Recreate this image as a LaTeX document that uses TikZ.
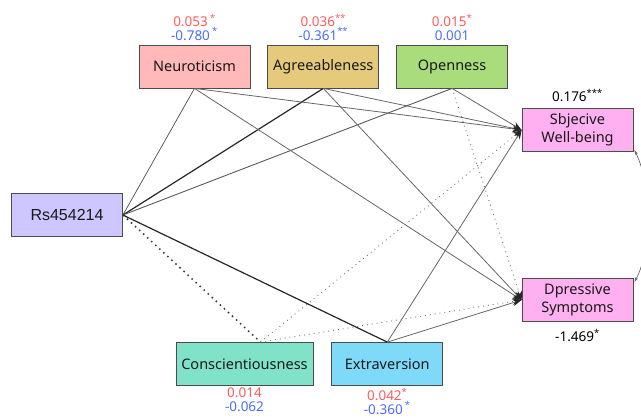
\documentclass[tikz,border=0pt]{standalone}
\usepackage{fontspec}
\setmainfont{Noto Sans}
\newfontfamily\rsfont{Liberation Sans}
\usetikzlibrary{positioning,arrows.meta}

\definecolor{neurofill}{HTML}{FFB9B9}
\definecolor{agreefill}{HTML}{E5CA7C}
\definecolor{openfill}{HTML}{A9DC7B}
\definecolor{outfill}{HTML}{FFB0F0}
\definecolor{consfill}{HTML}{80E3C9}
\definecolor{extrafill}{HTML}{7FD9F9}
\definecolor{rsfill}{HTML}{CDC6FF}
\definecolor{estred}{HTML}{FF5A5A}
\definecolor{estblue}{HTML}{4A6CFF}

\tikzset{
  box/.style={draw=black!70, line width=0.8pt, minimum width=111pt,
    minimum height=43pt, inner sep=2pt, text=black!90,
    font=\fontsize{14.5}{18}\selectfont, align=center},
  est/.style={inner sep=0pt, align=center, font=\fontsize{13.5}{13.5}\selectfont},
  thinpath/.style={draw=black!70, line width=0.7pt},
  midpath/.style={draw=black!65, line width=0.9pt},
  strongpath/.style={draw=black!85, line width=1.2pt},
  bigdots/.style={draw=black!80, line width=1.5pt, dash pattern=on 1.5pt off 4pt},
  effect/.style={draw=black!60, line width=0.8pt, -{Stealth[length=9pt,width=7pt,color=black!85]}},
  doteffect/.style={draw=black!55, line width=0.9pt, dash pattern=on 0.9pt off 4pt,
    -{Stealth[length=9pt,width=7pt,color=black!85]}},
  corr/.style={draw=black!60, line width=0.7pt, {Stealth[length=5pt,width=3pt]}-{Stealth[length=5pt,width=3pt]}}
}

\begin{document}
\begin{tikzpicture}[x=1pt,y=1pt]
  \useasboundingbox (0,0) rectangle (641,-418);
  % Define nodes
  \node[box, fill=rsfill, font=\rsfont\fontsize{16}{18}\selectfont] (rs) at (67,-215) {Rs454214};
  \node[box, fill=neurofill]                  (neuro) at (194.5,-66.5) {Neuroticism};
  \node[box, fill=agreefill, right=17pt of neuro] (agree) {Agreeableness};
  \node[box, fill=openfill, right=17pt of agree]  (open)  {Openness};
  \node[box, fill=outfill]                    (swb) at (577.5,-130) {Sbjecive\\Well-being};
  \node[box, fill=outfill]                    (ds)  at (577.5,-300) {Dpressive\\Symptoms};
  \node[box, fill=consfill, minimum width=137pt]  (cons)  at (244.5,-364) {Conscientiousness};
  \node[box, fill=extrafill, right=18pt of cons]  (extra) {Extraversion};
  \coordinate (consT) at ([xshift=16pt]cons.north);

  % Estimates
  \node[est, above=4pt of neuro] (neuroE) {\textcolor{estred}{0.053\,\textsuperscript{*}}\\\textcolor{estblue}{-0.780\,\textsuperscript{*}}};
  \node[est, above=4pt of agree] (agreeE) {\textcolor{estred}{0.036\textsuperscript{**}}\\\textcolor{estblue}{-0.361\textsuperscript{**}}};
  \node[est, above=4pt of open]  (openE)  {\textcolor{estred}{0.015\textsuperscript{*}}\\\textcolor{estblue}{0.001}};
  \node[est, below=2pt of cons]  (consE)  {\textcolor{estred}{0.014}\\\textcolor{estblue}{-0.062}};
  \node[est, below=2pt of extra] (extraE) {\textcolor{estred}{0.042\textsuperscript{*}}\\\textcolor{estblue}{-0.360\,\textsuperscript{*}}};
  \node[est, above=6pt of swb]   (swbE)   {0.176\textsuperscript{***}};
  \node[est, below=7pt of ds]    (dsE)    {-1.469\textsuperscript{*}};

  % Connect the nodes
  \draw[thinpath]   (rs.east) -- (neuro.south);
  \draw[strongpath] (rs.east) -- (agree.south);
  \draw[midpath]    (rs.east) -- (open.south);
  \draw[strongpath] (rs.east) -- (extra.north);
  \draw[bigdots]    (rs.east) -- (consT);

  \foreach \m in {neuro,agree} {
    \draw[effect] (\m.south) -- (swb.west);
    \draw[effect] (\m.south) -- (ds.west);
  }
  \draw[effect]    (open.south) -- (swb.west);
  \draw[doteffect] (open.south) -- (ds.west);
  \draw[doteffect] (consT) -- (swb.west);
  \draw[doteffect] (consT) -- (ds.west);
  \draw[effect]    (extra.north) -- (swb.west);
  \draw[effect]    (extra.north) -- (ds.west);

  % Residual covariance
  \draw[corr] ([xshift=1pt,yshift=-20pt]swb.east) .. controls (652,-185) and (652,-250) .. ([xshift=1pt,yshift=18pt]ds.east);
\end{tikzpicture}
\end{document}
